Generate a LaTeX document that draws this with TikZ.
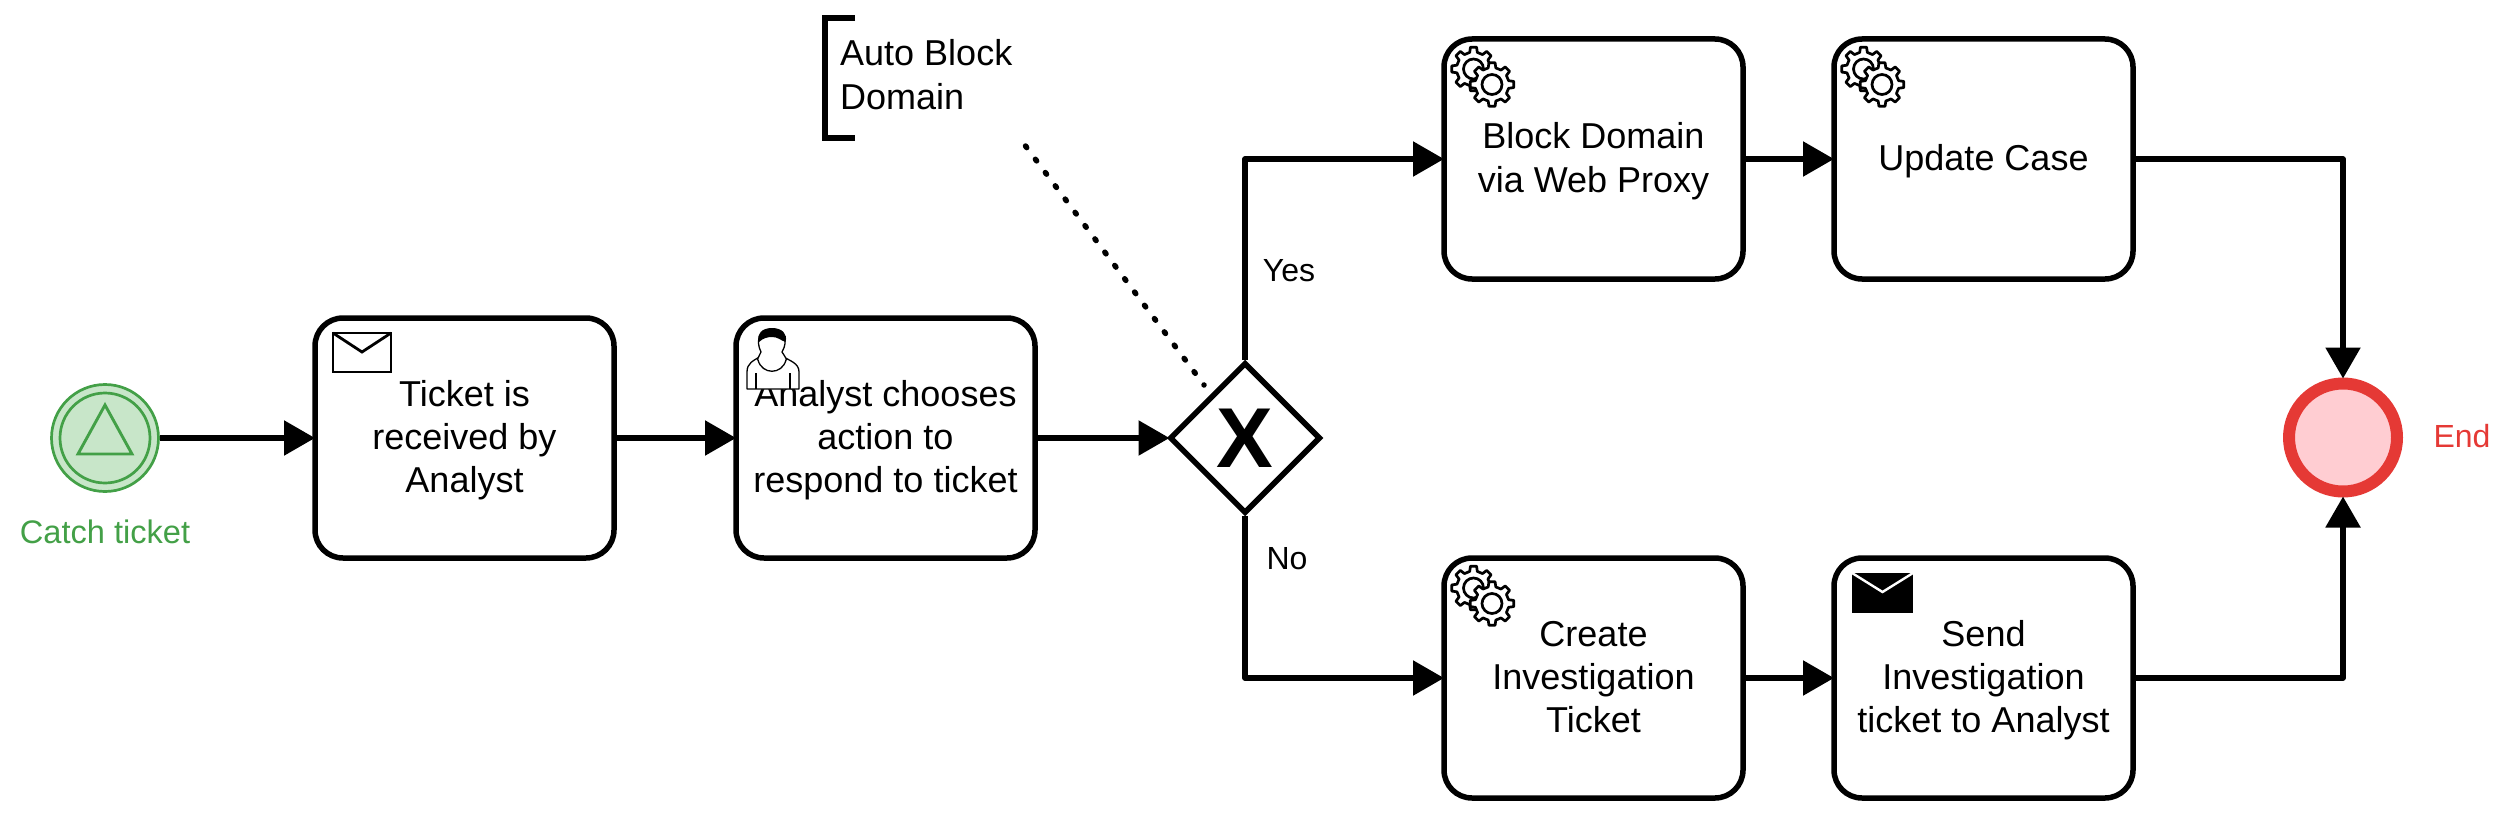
\documentclass[tikz,border=0pt]{standalone}
\usepackage{fontspec}
\setmainfont{Liberation Sans}
\usetikzlibrary{arrows.meta,shapes.geometric}
\definecolor{evgreen}{HTML}{43A047}
\definecolor{evgreenfill}{HTML}{C8E6C9}
\definecolor{evred}{HTML}{E53935}
\definecolor{evredfill}{HTML}{FFCDD2}
\newcommand{\topln}{\rule{0pt}{34pt}}
\newcommand{\botln}{\rule[-11pt]{0pt}{11pt}}
\tikzset{
  taskbox/.style={draw=black,line width=5.5pt,fill=white,rectangle,rounded corners=28pt,minimum width=299pt,minimum height=240pt,inner sep=0pt,align=center,font=\fontsize{36}{43.2}\selectfont},
  flow/.style={draw=black,line width=5.5pt,-{Triangle[length=31pt,width=34pt]},line join=round,shorten >=-2.75pt},
  plainlabel/.style={inner sep=0pt,font=\fontsize{32}{38}\selectfont},
  gearwheel/.pic={
    \draw[line width=2.7pt,fill=white,line join=round] (-13:17) \foreach \a in {0,45,...,315}{ -- (\a-13:17) -- (\a-8:22) -- (\a+8:22) -- (\a+13:17)} -- cycle;
    \draw[line width=2.7pt] (0,0) circle[radius=10pt];
  },
  mailicon/.pic={
    \draw[line width=2.8pt,fill=white,line join=miter] (0,0) rectangle (58,39);
    \draw[line width=2.8pt] (0,0) -- (29,19) -- (58,0);
  },
  mailiconsolid/.pic={
    \fill[black] (0,0) rectangle (61,40);
    \draw[white,line width=2.4pt] (0,0) -- (30.5,19) -- (61,0);
  }
}
\begin{document}
\begin{tikzpicture}[x=1pt,y=-1pt]
\useasboundingbox (0,0) rectangle (2511,816);
% events
\node[circle,draw=evgreen,fill=evgreenfill,line width=2.7pt,minimum size=107pt,inner sep=0pt] (start) at (105,438) {};
\node[circle,draw=evgreen,line width=2.7pt,minimum size=90pt,inner sep=0pt] (startinner) at (105,438) {};
\draw[evgreen,line width=2.9pt,line join=miter] (105,405) -- (132,454) -- (78,454) -- cycle;
\node[plainlabel,text=evgreen,font=\fontsize{32.6}{38}\selectfont] (startlabel) at (105,532) {Catch ticket};
\node[circle,draw=evred,fill=evredfill,line width=12pt,minimum size=108pt,inner sep=0pt] (finish) at (2343,437.5) {};
\node[plainlabel,text=evred] (finishlabel) at (2462,436) {End};
% tasks
\node[taskbox] (t1) at (464.5,438) {\topln Ticket is\\received by\\Analyst\botln};
\node[taskbox] (t2) at (885.5,438) {\topln Analyst chooses\\action to\\respond to ticket\botln};
\node[taskbox] (t3) at (1593.5,159) {\topln Block Domain\\via Web Proxy\botln};
\node[taskbox] (t4) at (1983.5,159) {\topln Update Case\botln};
\node[taskbox] (t5) at (1593.5,678) {\topln Create\\Investigation\\Ticket\botln};
\node[taskbox] (t6) at (1983.5,678) {\topln Send\\Investigation\\ticket to Analyst\botln};
% gateway
\node[diamond,aspect=1,draw=black,fill=white,line width=5.5pt,minimum width=151pt,minimum height=151pt,inner sep=0pt,font=\fontsize{85}{85}\selectfont\bfseries] (gw) at (1245,438) {X};
% flows
\draw[flow] (start) -- (t1);
\draw[flow] (t1) -- (t2);
\draw[flow] (t2) -- (gw);
\draw[flow] (gw.north) |- (t3.west);
\draw[flow] (gw.south) |- (t5.west);
\draw[flow] (t3) -- (t4);
\draw[flow] (t5) -- (t6);
\draw[flow,shorten >=-1pt] (t4.east) -| (finish.north);
\draw[flow,shorten >=-1pt] (t6.east) -| (finish.south);
\node[plainlabel] (yeslabel) at (1289,271) {Yes};
\node[plainlabel] (nolabel) at (1287,559) {No};
% annotation
\coordinate (brTop) at (855,18);
\coordinate (brBot) at (855,138);
\draw[line width=5.5pt,line join=miter] (brTop) -- (825,18) -- (825,138) -- (brBot);
\node[anchor=west,inner sep=0pt,align=left,font=\fontsize{36}{44}\selectfont] (note) at (840,75) {Auto Block\\Domain};
\coordinate (noteFrom) at (1025.5,146);
\coordinate (noteTo) at (1204,385);
\draw[line width=5.5pt,line cap=round,dash pattern=on 2pt off 14.57pt] (noteFrom) -- (noteTo);
% task markers
\pic at (333,333) {mailicon};
\pic at (1852,573) {mailiconsolid};
\foreach \px/\py in {1473.5/69,1863.5/69,1473.5/588}{\pic at (\px,\py) {gearwheel};}
\foreach \px/\py in {1492/84.5,1882/84.5,1492/603.5}{\pic at (\px,\py) {gearwheel};}
% user marker
\draw[line width=1.3pt,fill=white,line join=round]
  (747,389) -- (747,372) .. controls (747,363) and (753,361) .. (761,356)
  -- (782,356) .. controls (790,361) and (799,363) .. (799,372) -- (799,389) -- cycle;
\draw[line width=1.3pt,fill=white] (761,352) .. controls (755,340) and (760,329) .. (772,329) .. controls (784,329) and (789,340) .. (782,352) .. controls (786,358) and (787,360) .. (786,360) .. controls (782,375) and (762,375) .. (758,360) .. controls (757,360) and (758,358) .. (761,352) -- cycle;
\fill[black] (759,342) .. controls (756,334) and (762,328) .. (772,328) .. controls (782,328) and (788,334) .. (785.5,342) .. controls (780,340) and (778,337) .. (772,337) .. controls (768,337) and (763,338) .. (759,342) -- cycle;
\draw[line width=1.3pt] (756,373) -- (756,389) (790,373) -- (790,389);
\end{tikzpicture}
\end{document}
